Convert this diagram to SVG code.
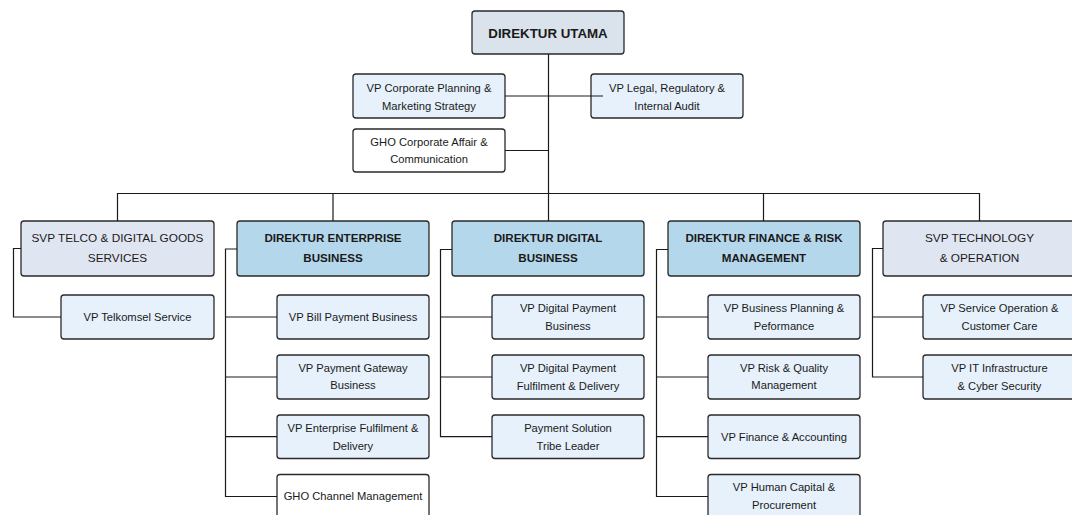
<svg xmlns="http://www.w3.org/2000/svg" width="1072" height="515" viewBox="0 0 1072 515">
  <style>
    .box { stroke: #2a2a2a; stroke-width: 1.3; }
    .top { fill: #dae2eb; }
    .dir { fill: #b5d7eb; }
    .svp { fill: #e0e6f1; }
    .vp { fill: #e6f1fb; }
    .plain { fill: #ffffff; }
    text { font-family: "Liberation Sans", Arial, sans-serif; fill: #1a1a1a; text-anchor: middle; }
    .t { font-size: 11.2px; }
    .ts { font-size: 11.8px; }
    .tb { font-size: 11.6px; font-weight: bold; }
    .tt { font-size: 13.3px; font-weight: bold; }
    .conn { fill: none; stroke: #1a1a1a; stroke-width: 1.2; }
  </style>
  <rect width="1072" height="515" fill="#ffffff"/>

  <!-- top level -->
  <g id="direktur-utama">
    <rect class="box top" x="472" y="11" width="152" height="43" rx="3"/>
    <text class="tt" x="548" y="38">DIREKTUR UTAMA</text>
  </g>
  <g id="vp-corporate-planning">
    <rect class="box vp" x="353" y="74" width="152" height="44" rx="3"/>
    <text class="t" x="429" y="91.5">VP Corporate Planning &amp;</text>
    <text class="t" x="429" y="109.5">Marketing Strategy</text>
  </g>
  <g id="vp-legal">
    <rect class="box vp" x="591" y="74" width="152" height="44" rx="3"/>
    <text class="t" x="667" y="91.5">VP Legal, Regulatory &amp;</text>
    <text class="t" x="667" y="109.5">Internal Audit</text>
  </g>
  <g id="gho-corporate-affair">
    <rect class="box plain" x="353" y="129" width="152" height="43" rx="3"/>
    <text class="t" x="429" y="145.5">GHO Corporate Affair &amp;</text>
    <text class="t" x="429" y="163">Communication</text>
  </g>

  <!-- second level -->
  <g id="svp-telco">
    <rect class="box svp" x="21" y="221" width="193" height="55" rx="3"/>
    <text class="ts" x="117.5" y="241.5">SVP TELCO &amp; DIGITAL GOODS</text>
    <text class="ts" x="117.5" y="261.5">SERVICES</text>
  </g>
  <g id="direktur-enterprise">
    <rect class="box dir" x="237" y="221" width="192" height="55" rx="3"/>
    <text class="tb" x="333" y="241.5">DIREKTUR ENTERPRISE</text>
    <text class="tb" x="333" y="261.5">BUSINESS</text>
  </g>
  <g id="direktur-digital">
    <rect class="box dir" x="452" y="221" width="192" height="55" rx="3"/>
    <text class="tb" x="548" y="241.5">DIREKTUR DIGITAL</text>
    <text class="tb" x="548" y="261.5">BUSINESS</text>
  </g>
  <g id="direktur-finance">
    <rect class="box dir" x="668" y="221" width="192" height="55" rx="3"/>
    <text class="tb" x="764" y="241.5">DIREKTUR FINANCE &amp; RISK</text>
    <text class="tb" x="764" y="261.5">MANAGEMENT</text>
  </g>
  <g id="svp-technology">
    <rect class="box svp" x="883" y="221" width="193" height="55" rx="3"/>
    <text class="ts" x="979.5" y="241.5">SVP TECHNOLOGY</text>
    <text class="ts" x="979.5" y="261.5">&amp; OPERATION</text>
  </g>

  <!-- SVP Telco unit -->
  <g id="vp-telkomsel">
    <rect class="box vp" x="61" y="295" width="153" height="44" rx="3"/>
    <text class="t" x="137.5" y="321">VP Telkomsel Service</text>
  </g>

  <!-- Enterprise units -->
  <g id="vp-bill-payment">
    <rect class="box vp" x="277" y="295" width="152" height="44" rx="3"/>
    <text class="t" x="353" y="321">VP Bill Payment Business</text>
  </g>
  <g id="vp-payment-gateway">
    <rect class="box vp" x="277" y="355" width="152" height="44" rx="3"/>
    <text class="t" x="353" y="372">VP Payment Gateway</text>
    <text class="t" x="353" y="389">Business</text>
  </g>
  <g id="vp-enterprise-fulfilment">
    <rect class="box vp" x="277" y="415" width="152" height="43.5" rx="3"/>
    <text class="t" x="353" y="431.5">VP Enterprise Fulfilment &amp;</text>
    <text class="t" x="353" y="449.5">Delivery</text>
  </g>
  <g id="gho-channel">
    <rect class="box plain" x="277" y="474.5" width="152" height="44" rx="3"/>
    <text class="t" x="353" y="500">GHO Channel Management</text>
  </g>

  <!-- Digital units -->
  <g id="vp-digital-payment">
    <rect class="box vp" x="492" y="295" width="152" height="44" rx="3"/>
    <text class="t" x="568" y="311.5">VP Digital Payment</text>
    <text class="t" x="568" y="329.5">Business</text>
  </g>
  <g id="vp-digital-fulfilment">
    <rect class="box vp" x="492" y="355" width="152" height="44" rx="3"/>
    <text class="t" x="568" y="372">VP Digital Payment</text>
    <text class="t" x="568" y="390">Fulfilment &amp; Delivery</text>
  </g>
  <g id="payment-solution">
    <rect class="box vp" x="492" y="415" width="152" height="43.5" rx="3"/>
    <text class="t" x="568" y="431.5">Payment Solution</text>
    <text class="t" x="568" y="449.5">Tribe Leader</text>
  </g>

  <!-- Finance units -->
  <g id="vp-business-planning">
    <rect class="box vp" x="708" y="295" width="152" height="44" rx="3"/>
    <text class="t" x="784" y="311.5">VP Business Planning &amp;</text>
    <text class="t" x="784" y="329.5">Peformance</text>
  </g>
  <g id="vp-risk-quality">
    <rect class="box vp" x="708" y="355" width="152" height="44" rx="3"/>
    <text class="t" x="784" y="372">VP Risk &amp; Quality</text>
    <text class="t" x="784" y="389">Management</text>
  </g>
  <g id="vp-finance-accounting">
    <rect class="box vp" x="708" y="415" width="152" height="43.5" rx="3"/>
    <text class="t" x="784" y="440.5">VP Finance &amp; Accounting</text>
  </g>
  <g id="vp-human-capital">
    <rect class="box vp" x="708" y="474.5" width="152" height="44" rx="3"/>
    <text class="t" x="784" y="491">VP Human Capital &amp;</text>
    <text class="t" x="784" y="509">Procurement</text>
  </g>

  <!-- Technology units -->
  <g id="vp-service-operation">
    <rect class="box vp" x="923" y="295" width="153" height="44" rx="3"/>
    <text class="t" x="999.5" y="311.5">VP Service Operation &amp;</text>
    <text class="t" x="999.5" y="329.5">Customer Care</text>
  </g>
  <g id="vp-it-infrastructure">
    <rect class="box vp" x="923" y="355" width="153" height="44" rx="3"/>
    <text class="t" x="999.5" y="372">VP IT Infrastructure</text>
    <text class="t" x="999.5" y="390">&amp; Cyber Security</text>
  </g>

  <!-- connectors -->
  <g id="connectors" class="conn">
    <path d="M548.5 54 V221"/>
    <path d="M505 96 H603"/>
    <path d="M505 150.5 H548.5"/>
    <path d="M117.5 221 V193.5 H979.5 V221"/>
    <path d="M333 193.5 V221"/>
    <path d="M763.5 193.5 V221"/>
    <path d="M21 248.5 H13.5 V317 H61"/>
    <path d="M237 249 H225.5 V496.5 H277"/>
    <path d="M225.5 317 H277 M225.5 377 H277 M225.5 436.7 H277"/>
    <path d="M452 249.5 H440.5 V436.7 H492"/>
    <path d="M440.5 317 H492 M440.5 377 H492"/>
    <path d="M668 249.5 H656.5 V496.5 H708"/>
    <path d="M656.5 317 H708 M656.5 377 H708 M656.5 436.7 H708"/>
    <path d="M883 248.5 H872.5 V377 H923"/>
    <path d="M872.5 317 H923"/>
  </g>
</svg>
